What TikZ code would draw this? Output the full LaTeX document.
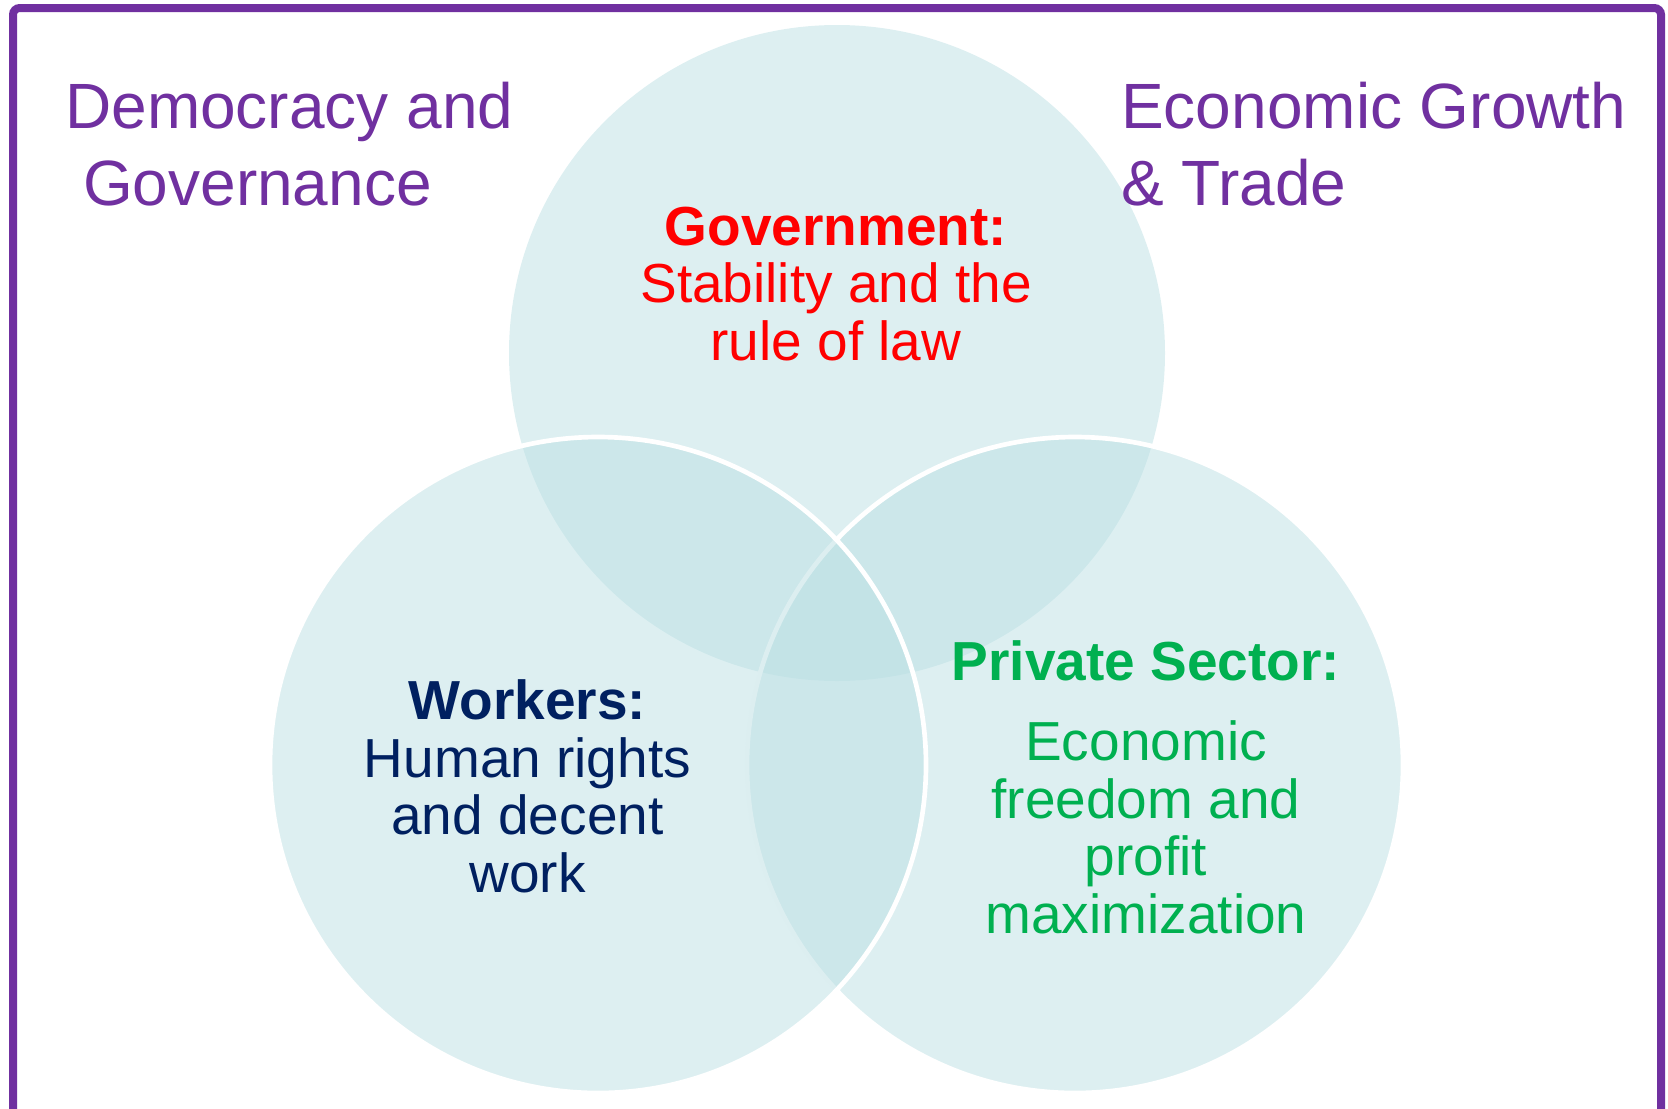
\documentclass[tikz,border=0pt]{standalone}
\usepackage{fontspec}
\setmainfont{Liberation Sans}
\usepackage{xcolor}
\usepackage{tikz}

\definecolor{framepurple}{HTML}{7030A0}
\definecolor{venncyan}{HTML}{BBDFE3}
\definecolor{govred}{HTML}{FF0000}
\definecolor{worknavy}{HTML}{002060}
\definecolor{privgreen}{HTML}{00B050}

\tikzset{
	venn/.style={fill=venncyan, fill opacity=0.5},
	vennrim/.style={draw=white, line width=3.5pt},
	areatitle/.style={text=framepurple, font=\fontsize{48}{57.75}\selectfont, inner sep=0pt, align=left, anchor=base west},
	sectortext/.style={font=\fontsize{41.25}{43.1}\selectfont, inner sep=0pt, align=center, anchor=base}
}

\begin{document}
\begin{tikzpicture}[x=0.75pt, y=-0.75pt]

\useasboundingbox (0,0) rectangle (1668,1108);

% the three circles
\coordinate (govc) at (837,353);
\coordinate (workc) at (598,765);
\coordinate (privc) at (1075,765);

\fill[venn] (govc) circle (246pt);
\filldraw[venn, vennrim] (privc) circle (246pt);
\filldraw[venn, vennrim] (workc) circle (246pt);

% frame, open at the bottom
\draw[framepurple, line width=6pt, rounded corners=5pt] (13,1130)--(13,8)--(1661,8)--(1661,1130);

% texts (placed at the baseline of their last line)
\node[areatitle] (dem) at (65,205) {Democracy and\\\hspace*{0.278em}Governance};
\node[areatitle] (econ) at (1121,205) {Economic Growth\\\& Trade};

\node[sectortext, text=govred] (gov) at (836,360) {\textbf{Government:}\\Stability and the\\rule of law};

\node[sectortext, text=worknavy] (work) at (527.5,892) {\textbf{Workers:}\\Human rights\\and decent\\work};

\node[sectortext, text=privgreen] (priv) at (1146,933) {\textbf{Private Sector:}\\[16.9pt]Economic\\freedom and\\profit\\maximization};

\end{tikzpicture}
\end{document}
